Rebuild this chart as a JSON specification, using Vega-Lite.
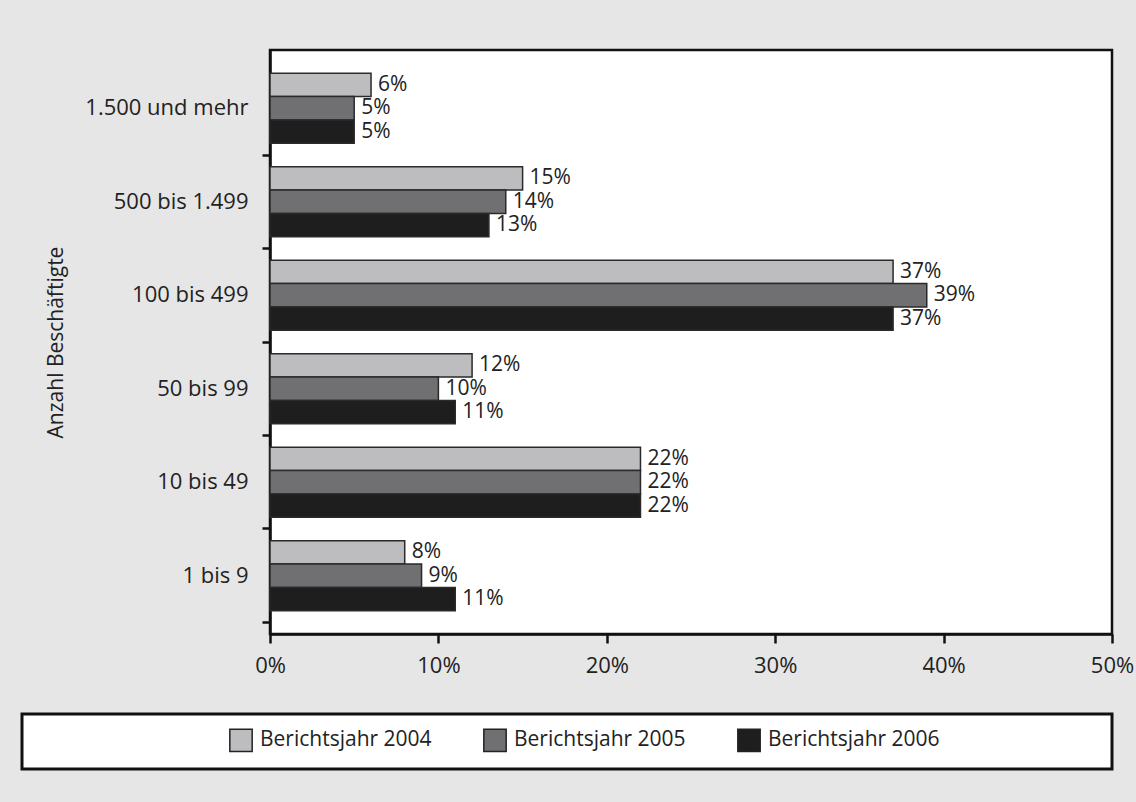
{
  "$schema": "https://vega.github.io/schema/vega-lite/v6.json",
  "autosize": {"type": "none"},
  "width": 842,
  "height": 584,
  "padding": {"left": 270, "top": 50, "right": 24, "bottom": 168},
  "background": "#e6e6e6",
  "config": {
    "font": "Open Sans",
    "view": {"fill": "white", "stroke": "#111111", "strokeWidth": 2.5},
    "axis": {"labelFont": "Open Sans", "titleFont": "Open Sans", "labelColor": "#222222", "titleColor": "#222222", "domainColor": "#111111", "tickColor": "#111111", "grid": false},
    "legend": {"labelFont": "Open Sans", "titleFont": "Open Sans", "strokeWidth": 3}
  },
  "data": {
    "values": [
      {"Groesse": "1.500 und mehr", "Jahr": "Berichtsjahr 2004", "Anteil": 0.06},
      {"Groesse": "1.500 und mehr", "Jahr": "Berichtsjahr 2005", "Anteil": 0.05},
      {"Groesse": "1.500 und mehr", "Jahr": "Berichtsjahr 2006", "Anteil": 0.05},
      {"Groesse": "500 bis 1.499", "Jahr": "Berichtsjahr 2004", "Anteil": 0.15},
      {"Groesse": "500 bis 1.499", "Jahr": "Berichtsjahr 2005", "Anteil": 0.14},
      {"Groesse": "500 bis 1.499", "Jahr": "Berichtsjahr 2006", "Anteil": 0.13},
      {"Groesse": "100 bis 499", "Jahr": "Berichtsjahr 2004", "Anteil": 0.37},
      {"Groesse": "100 bis 499", "Jahr": "Berichtsjahr 2005", "Anteil": 0.39},
      {"Groesse": "100 bis 499", "Jahr": "Berichtsjahr 2006", "Anteil": 0.37},
      {"Groesse": "50 bis 99", "Jahr": "Berichtsjahr 2004", "Anteil": 0.12},
      {"Groesse": "50 bis 99", "Jahr": "Berichtsjahr 2005", "Anteil": 0.10},
      {"Groesse": "50 bis 99", "Jahr": "Berichtsjahr 2006", "Anteil": 0.11},
      {"Groesse": "10 bis 49", "Jahr": "Berichtsjahr 2004", "Anteil": 0.22},
      {"Groesse": "10 bis 49", "Jahr": "Berichtsjahr 2005", "Anteil": 0.22},
      {"Groesse": "10 bis 49", "Jahr": "Berichtsjahr 2006", "Anteil": 0.22},
      {"Groesse": "1 bis 9", "Jahr": "Berichtsjahr 2004", "Anteil": 0.08},
      {"Groesse": "1 bis 9", "Jahr": "Berichtsjahr 2005", "Anteil": 0.09},
      {"Groesse": "1 bis 9", "Jahr": "Berichtsjahr 2006", "Anteil": 0.11}
    ]
  },
  "encoding": {
    "y": {
      "field": "Groesse", "type": "nominal", "sort": null,
      "scale": {"paddingInner": 0, "paddingOuter": 0.123},
      "axis": {
        "title": "Anzahl Beschäftigte", "titleFontSize": 21, "titleFontWeight": "normal", "titlePadding": 18,
        "labelFontSize": 22, "labelPadding": 14, "tickSize": 8, "tickWidth": 2.5, "domainWidth": 2.5,
        "bandPosition": 1, "tickExtra": false
      }
    },
    "yOffset": {
      "field": "Jahr", "type": "nominal",
      "scale": {"paddingInner": 0, "paddingOuter": 0.5}
    },
    "x": {
      "field": "Anteil", "type": "quantitative",
      "scale": {"domain": [0, 0.5]},
      "axis": {"title": null, "format": ".0%", "values": [0, 0.1, 0.2, 0.3, 0.4, 0.5], "labelFontSize": 22, "labelPadding": 12, "tickSize": 9, "tickWidth": 2.5, "domainWidth": 2.5, "labelFlush": false}
    }
  },
  "layer": [
    {
      "mark": {"type": "bar", "stroke": "#2a2a2a", "strokeWidth": 1.5},
      "encoding": {
        "color": {
          "field": "Jahr", "type": "nominal",
          "scale": {"domain": ["Berichtsjahr 2004", "Berichtsjahr 2005", "Berichtsjahr 2006"], "range": ["#bdbdbf", "#707072", "#1e1e1e"]},
          "legend": {
            "orient": "none", "legendX": -248, "legendY": 664,
            "direction": "horizontal", "columns": 3, "columnPadding": 48,
            "title": "\u00a0", "titleOrient": "left", "titlePadding": 193, "titleFontSize": 21,
            "fillColor": "white", "strokeColor": "#111111", "padding": 14,
            "symbolType": "square", "symbolSize": 500, "symbolStrokeColor": "#222222", "symbolStrokeWidth": 1.5,
            "labelFontSize": 21, "labelOffset": 7, "labelColor": "#222222", "labelLimit": 500,
            "labelExpr": "indexof(datum.label, '2006') >= 0 ? datum.label + '\u00a0\u00a0\u00a0\u00a0\u00a0\u00a0\u00a0\u00a0\u00a0\u00a0\u00a0\u00a0\u00a0\u00a0\u00a0\u00a0\u00a0\u00a0\u00a0\u00a0\u00a0\u00a0\u00a0\u00a0\u00a0\u00a0\u00a0\u00a0\u00a0\u200b' : datum.label"
          }
        }
      }
    },
    {
      "mark": {"type": "text", "align": "left", "baseline": "middle", "dx": 7, "fontSize": 21, "color": "#222222"},
      "encoding": {
        "text": {"field": "Anteil", "type": "quantitative", "format": ".0%"}
      }
    }
  ]
}
